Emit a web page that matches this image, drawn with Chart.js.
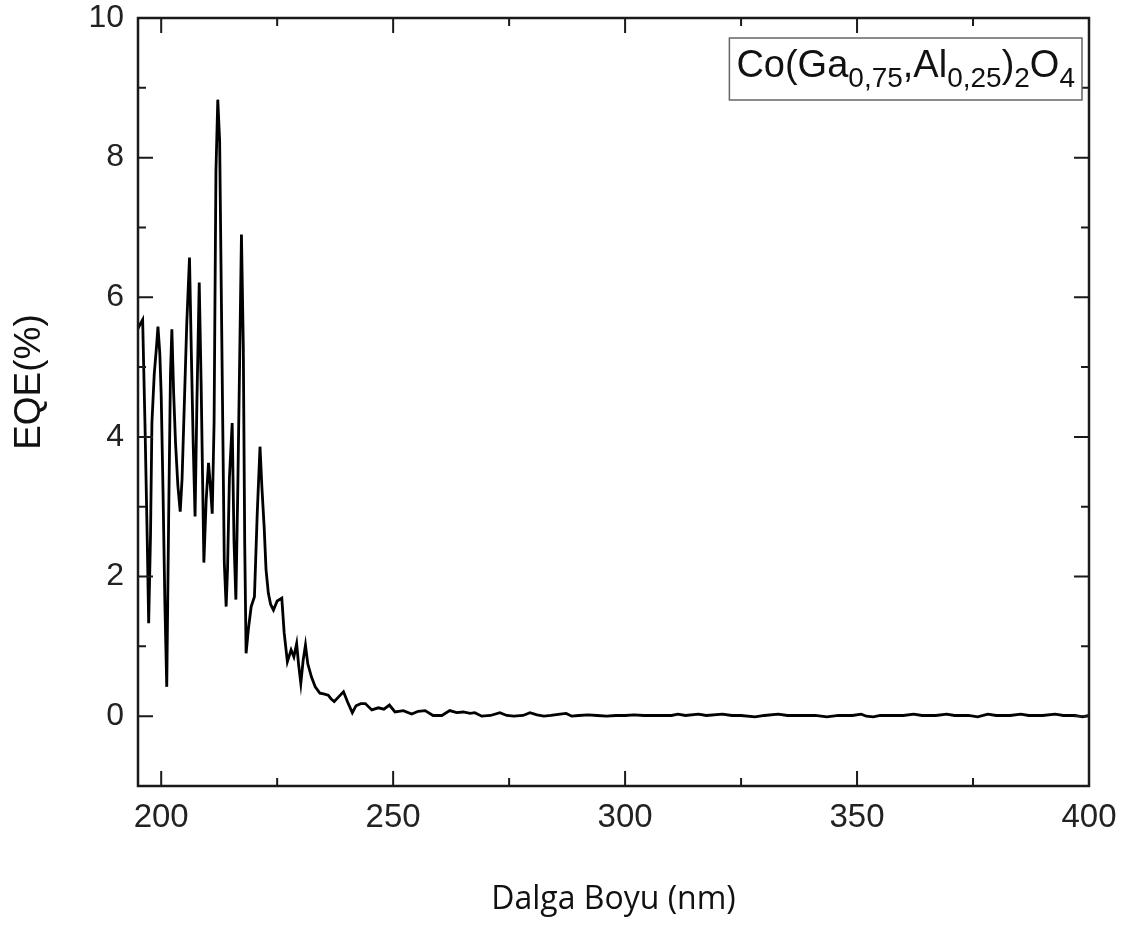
<!DOCTYPE html>
<html>
<head>
<meta charset="utf-8">
<script src="https://cdn.jsdelivr.net/npm/chart.js@4"></script>
<style>
  body { margin: 0; background: #fff; }
  #wrap { width: 1133px; height: 925px; position: relative; }
</style>
</head>
<body>
<div id="wrap"><canvas id="myChart"></canvas></div>
<script>
// EQE spectrum, wavelength in nm
const wavelength = [
  195.0, 195.5, 196.0, 196.5, 197.0, 197.3, 197.7, 198.0, 198.5, 199.0,
  199.3, 199.7, 200.0, 200.4, 200.8, 201.2, 201.6, 202.0, 202.3, 202.7,
  203.1, 203.6, 204.1, 204.5, 205.0, 205.5, 206.1, 206.5, 206.9, 207.3,
  207.7, 208.2, 208.6, 209.2, 209.7, 210.2, 210.6, 211.0, 211.4, 211.8,
  212.2, 212.6, 212.9, 213.3, 213.6, 214.0, 214.3, 214.7, 215.3, 215.7,
  216.1, 216.5, 217.0, 217.3, 217.7, 218.0, 218.3, 218.8, 219.4, 220.1,
  220.7, 221.3, 221.7, 222.2, 222.6, 223.1, 223.6, 224.2, 225.0, 226.0,
  226.5, 227.2, 228.0, 228.6, 229.2, 229.6, 230.1, 230.6, 231.1, 231.6,
  232.4, 233.2, 234.2, 235.0, 236.0, 236.6, 237.3, 238.3, 239.3, 240.2,
  241.2, 242.0, 243.0, 244.0, 245.4, 246.8, 248.0, 249.2, 250.4, 252.2,
  254.0, 255.4, 256.9, 258.6, 260.5, 262.2, 263.7, 265.1, 266.6, 267.6,
  269.1, 271.0, 273.0, 274.5, 276.0, 278.0, 279.5, 281.0, 282.5, 284.0,
  286.0, 287.3, 288.5, 290.0, 292.0, 294.0, 296.0, 298.0, 300.0, 302.0,
  304.0, 306.0, 308.0, 310.0, 311.4, 313.0, 315.8, 317.5, 321.0, 323.0,
  325.0, 328.0, 330.0, 333.0, 335.0, 338.0, 341.0, 343.5, 346.0, 349.0,
  350.9, 352.0, 353.5, 355.0, 358.0, 360.0, 362.2, 364.0, 367.0, 369.3,
  371.0, 374.0, 376.0, 378.2, 380.0, 383.0, 385.3, 387.0, 390.0, 392.7,
  394.5, 397.0, 398.6, 400.0
];
const eqe = [
  5.55, 5.62, 5.68, 4.20, 2.50, 1.33, 2.60, 4.20, 4.90, 5.30,
  5.58, 5.20, 4.60, 3.20, 1.60, 0.42, 2.80, 4.90, 5.54, 4.60,
  3.90, 3.30, 2.93, 3.40, 4.50, 5.60, 6.57, 5.20, 3.90, 2.86,
  4.50, 6.21, 4.80, 2.20, 3.10, 3.63, 3.30, 2.90, 4.20, 7.80,
  8.83, 8.24, 6.40, 4.00, 2.20, 1.57, 2.10, 3.40, 4.20, 2.50,
  1.67, 3.20, 5.50, 6.90, 5.30, 2.50, 0.90, 1.25, 1.57, 1.71,
  2.90, 3.86, 3.29, 2.70, 2.10, 1.76, 1.60, 1.52, 1.65, 1.69,
  1.20, 0.78, 0.95, 0.85, 1.04, 0.75, 0.47, 0.80, 1.02, 0.75,
  0.56, 0.42, 0.33, 0.32, 0.30, 0.25, 0.21, 0.28, 0.35, 0.20,
  0.05, 0.15, 0.18, 0.18, 0.09, 0.12, 0.10, 0.16, 0.06, 0.08,
  0.03, 0.07, 0.08, 0.01, 0.01, 0.08, 0.05, 0.06, 0.04, 0.05,
  0.00, 0.01, 0.05, 0.01, 0.00, 0.01, 0.05, 0.02, 0.00, 0.01,
  0.03, 0.04, 0.00, 0.01, 0.02, 0.01, 0.00, 0.01, 0.01, 0.02,
  0.01, 0.01, 0.01, 0.01, 0.03, 0.01, 0.03, 0.01, 0.03, 0.01,
  0.01, -0.01, 0.01, 0.03, 0.01, 0.01, 0.01, -0.01, 0.01, 0.01,
  0.03, 0.00, -0.01, 0.01, 0.01, 0.01, 0.03, 0.01, 0.01, 0.03,
  0.01, 0.01, -0.01, 0.03, 0.01, 0.01, 0.03, 0.01, 0.01, 0.03,
  0.01, 0.01, -0.01, 0.01
];

const xMajor = [200, 250, 300, 350, 400];
const xMinor = [225, 275, 325, 375];
const yMajor = [0, 2, 4, 6, 8, 10];
const yMinor = [-1, 1, 3, 5, 7, 9];

// sample name: [text, isSubscript]
const sampleLabel = [
  ['Co(Ga', false], ['0,75', true], [',Al', false], ['0,25', true],
  [')', false], ['2', true], ['O', false], ['4', true]
];

const points = wavelength.map((w, i) => ({ x: w, y: eqe[i] }));

// box + inward ticks on all four sides
const frameTicks = {
  id: 'frameTicks',
  afterDatasetsDraw(chart) {
    const { ctx, chartArea: a, scales: { x, y } } = chart;
    ctx.save();
    ctx.strokeStyle = '#1a1a1a';
    ctx.lineWidth = 2.5;
    ctx.strokeRect(a.left, a.top, a.right - a.left, a.bottom - a.top);
    ctx.lineWidth = 2;
    ctx.beginPath();
    const xt = (v, len) => {
      const px = x.getPixelForValue(v);
      ctx.moveTo(px, a.bottom); ctx.lineTo(px, a.bottom - len);
      ctx.moveTo(px, a.top); ctx.lineTo(px, a.top + len);
    };
    const yt = (v, len) => {
      const py = y.getPixelForValue(v);
      ctx.moveTo(a.left, py); ctx.lineTo(a.left + len, py);
      ctx.moveTo(a.right, py); ctx.lineTo(a.right - len, py);
    };
    xMajor.forEach(v => xt(v, 15));
    xMinor.forEach(v => xt(v, 8));
    yMajor.forEach(v => yt(v, 15));
    yMinor.forEach(v => yt(v, 8));
    ctx.stroke();
    ctx.restore();
  }
};

// y axis title, sits a bit above the plot's middle
const yTitle = {
  id: 'yTitle',
  afterDraw(chart) {
    const { ctx } = chart;
    ctx.save();
    ctx.translate(30, 382);
    ctx.rotate(-Math.PI / 2);
    ctx.font = '37px "Liberation Sans", Arial, sans-serif';
    ctx.fillStyle = '#111';
    ctx.textAlign = 'center';
    ctx.textBaseline = 'middle';
    ctx.fillText('EQE(%)', 0, 0);
    ctx.restore();
  }
};

// boxed sample label with subscripts, top right
const sampleBox = {
  id: 'sampleBox',
  afterDraw(chart) {
    const { ctx, chartArea: a } = chart;
    const big = '38px "Liberation Sans", Arial, sans-serif';
    const small = '28px "Liberation Sans", Arial, sans-serif';
    ctx.save();
    const boxR = a.right - 7, boxT = a.top + 20, boxH = 62;
    let w = 0;
    sampleLabel.forEach(([t, sub]) => { ctx.font = sub ? small : big; w += ctx.measureText(t).width; });
    const boxL = boxR - w - 14;
    ctx.fillStyle = '#fff';
    ctx.fillRect(boxL, boxT, boxR - boxL, boxH);
    ctx.strokeStyle = '#666';
    ctx.lineWidth = 1.5;
    ctx.strokeRect(boxL, boxT, boxR - boxL, boxH);
    ctx.fillStyle = '#111';
    ctx.textBaseline = 'alphabetic';
    let cx = boxL + 7;
    const base = boxT + 39;
    sampleLabel.forEach(([t, sub]) => {
      ctx.font = sub ? small : big;
      ctx.fillText(t, cx, sub ? base + 10 : base);
      cx += ctx.measureText(t).width;
    });
    ctx.restore();
  }
};

const ctx = document.getElementById('myChart');
new Chart(ctx, {
  type: 'line',
  data: {
    datasets: [{
      data: points,
      borderColor: '#000',
      borderWidth: 2.8,
      pointRadius: 0,
      tension: 0,
      fill: false
    }]
  },
  options: {
    responsive: true,
    maintainAspectRatio: false,
    animation: false,
    layout: { padding: { left: 0, right: 44, top: 18, bottom: 0 } },
    plugins: { legend: { display: false }, tooltip: { enabled: false } },
    scales: {
      x: {
        type: 'linear',
        min: 195,
        max: 400,
        grid: { display: false, drawTicks: false },
        border: { display: false },
        afterBuildTicks: s => { s.ticks = xMajor.map(v => ({ value: v })); },
        afterFit: s => { s.height = 139; s.paddingRight = 0; s.paddingLeft = 0; },
        ticks: {
          padding: 12,
          color: '#222',
          font: { family: '"Liberation Sans", Arial, sans-serif', size: 33 },
          maxRotation: 0,
          callback: v => v
        },
        title: {
          display: true,
          text: 'Dalga Boyu (nm)',
          color: '#111',
          font: { family: '"Open Sans", sans-serif', size: 32 },
          padding: { top: 0, bottom: 6 }
        }
      },
      y: {
        min: -1,
        max: 10,
        grid: { display: false, drawTicks: false },
        border: { display: false },
        afterBuildTicks: s => { s.ticks = yMajor.map(v => ({ value: v })); },
        afterFit: s => { s.width = 138; s.paddingTop = 0; s.paddingBottom = 0; },
        ticks: {
          padding: 14,
          color: '#222',
          font: { family: '"Liberation Sans", Arial, sans-serif', size: 32 },
          callback: v => v
        }
      }
    }
  },
  plugins: [frameTicks, yTitle, sampleBox]
});
</script>
</body>
</html>
